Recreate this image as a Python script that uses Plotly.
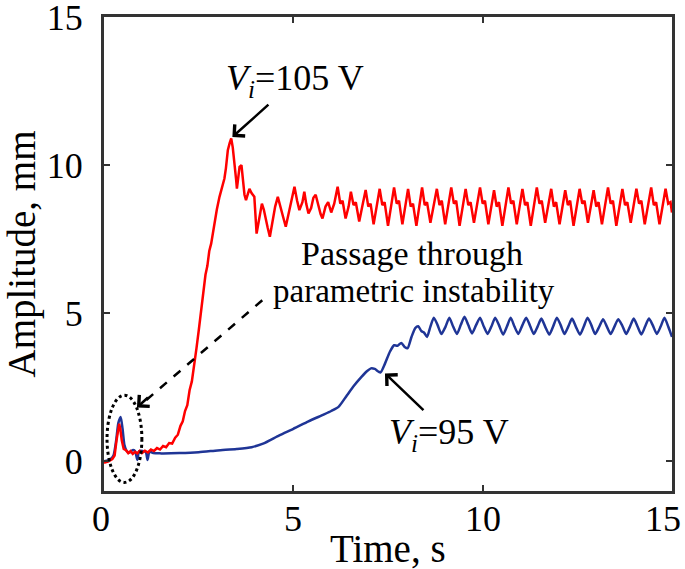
import plotly.graph_objects as go

# ---------------- data ----------------
red_t = [0.00, 0.12, 0.22, 0.28, 0.33, 0.37, 0.40, 0.43, 0.47, 0.52, 0.58, 0.64, 0.70, 0.76,
         0.82, 0.88, 0.94, 1.00, 1.08, 1.16, 1.24, 1.32, 1.40, 1.48, 1.56, 1.64, 1.72, 1.80,
         1.88, 1.95, 2.02, 2.08, 2.14, 2.20, 2.26, 2.32, 2.38, 2.44, 2.50, 2.56, 2.62, 2.68,
         2.73, 2.78, 2.83, 2.87, 2.92, 2.98, 3.05, 3.12, 3.18, 3.22, 3.27, 3.32, 3.36, 3.40,
         3.45, 3.49, 3.51, 3.55, 3.58, 3.63, 3.67, 3.71, 3.75, 3.80, 3.84, 3.90, 3.97, 4.03,
         4.10, 4.17, 4.22, 4.26, 4.32, 4.38, 4.46, 4.52, 4.59, 4.66, 4.72, 4.80, 4.90, 4.97,
         5.03, 5.10, 5.16, 5.24, 5.29, 5.34, 5.40, 5.47, 5.53, 5.59, 5.66, 5.72, 5.77, 5.85,
         5.92, 6.00, 6.08,
         6.17, 6.24, 6.30, 6.38, 6.46,
         6.52, 6.59, 6.65, 6.74, 6.82,
         6.91, 6.98, 7.04, 7.12, 7.20,
         7.28, 7.35, 7.41, 7.50, 7.58,
         7.66, 7.73, 7.79, 7.88, 7.96,
         8.03, 8.10, 8.16, 8.25, 8.33,
         8.40, 8.47, 8.53, 8.62, 8.71,
         8.79, 8.86, 8.92, 9.01, 9.09,
         9.17, 9.24, 9.30, 9.39, 9.47,
         9.55, 9.62, 9.68, 9.77, 9.85,
         9.93, 10.00, 10.06, 10.15, 10.23,
         10.30, 10.37, 10.43, 10.52, 10.60,
         10.68, 10.75, 10.81, 10.90, 10.98,
         11.05, 11.12, 11.18, 11.27, 11.35,
         11.43, 11.50, 11.56, 11.65, 11.73,
         11.81, 11.88, 11.94, 12.03, 12.11,
         12.18, 12.25, 12.31, 12.40, 12.48,
         12.56, 12.63, 12.69, 12.78, 12.86,
         12.93, 13.00, 13.06, 13.15, 13.23,
         13.31, 13.38, 13.44, 13.53, 13.61,
         13.69, 13.76, 13.82, 13.91, 13.99,
         14.06, 14.13, 14.19, 14.28, 14.36,
         14.45, 14.52, 14.58, 14.67, 14.75,
         14.83, 14.90, 14.96, 15.00]
red_a = [-0.05, 0.00, 0.08, 0.20, 0.70, 1.10, 1.27, 1.10, 0.70, 0.42, 0.38, 0.28, 0.35, 0.25,
         0.32, 0.27, 0.35, 0.28, 0.36, 0.30, 0.40, 0.35, 0.45, 0.40, 0.52, 0.48, 0.62, 0.60,
         0.80, 0.90, 1.20, 1.35, 1.70, 1.90, 2.40, 2.70, 3.20, 3.80, 4.40, 5.10, 5.70, 6.30,
         6.60, 7.10, 7.35, 7.70, 8.00, 8.50, 8.93, 9.30, 9.55, 9.90, 10.50, 10.75, 10.90, 10.60,
         10.07, 9.50, 9.21, 9.70, 9.94, 10.00, 9.60, 9.00, 8.82, 9.00, 9.20, 9.05, 8.93, 7.69,
         8.20, 8.70, 8.50, 8.30, 7.90, 7.58, 8.20, 8.60, 8.93, 8.55, 8.30, 7.92, 8.50, 9.00,
         9.27, 8.80, 8.48, 8.75, 9.10, 8.70, 8.37, 8.55, 8.90, 9.00, 8.60, 8.35, 8.20, 8.60,
         8.75, 8.40, 8.70,
         9.27, 8.70, 8.80, 8.20, 8.60,
         9.10, 8.65, 8.75, 8.10, 8.60,
         9.16, 8.60, 8.70, 8.00, 8.60,
         9.20, 8.65, 8.75, 7.95, 8.60,
         9.25, 8.70, 8.80, 8.00, 8.60,
         9.20, 8.60, 8.70, 7.95, 8.60,
         9.25, 8.65, 8.75, 8.05, 8.60,
         9.20, 8.65, 8.80, 8.00, 8.60,
         9.25, 8.70, 8.80, 7.95, 8.60,
         9.20, 8.65, 8.75, 8.05, 8.60,
         9.25, 8.70, 8.80, 8.00, 8.60,
         9.15, 8.60, 8.75, 7.95, 8.60,
         9.25, 8.70, 8.80, 8.00, 8.60,
         9.20, 8.65, 8.75, 7.95, 8.60,
         9.25, 8.70, 8.80, 8.05, 8.60,
         9.20, 8.60, 8.75, 8.00, 8.60,
         9.15, 8.65, 8.80, 7.95, 8.60,
         9.20, 8.70, 8.80, 8.05, 8.60,
         9.15, 8.60, 8.75, 8.00, 8.60,
         9.25, 8.70, 8.80, 7.95, 8.60,
         9.20, 8.65, 8.75, 8.05, 8.60,
         9.20, 8.70, 8.80, 8.00, 8.60,
         9.25, 8.65, 8.75, 8.00, 8.60,
         9.20, 8.70, 8.75, 8.40]

blue_t = [0.00, 0.15, 0.25, 0.32, 0.38, 0.44, 0.49, 0.54, 0.60, 0.68, 0.75, 0.82, 0.88, 0.93,
          1.10, 1.15, 1.20, 1.30, 1.50, 2.00, 2.50, 3.00, 3.50, 3.90, 4.20, 4.63, 5.00, 5.40,
          5.80, 6.00, 6.20, 6.40, 6.60, 6.80, 6.95, 7.05, 7.15, 7.30, 7.42, 7.55, 7.66, 7.75,
          7.85, 7.95, 8.02, 8.12, 8.22, 8.30, 8.38, 8.45, 8.53, 8.62,
          8.71, 8.81, 8.91, 9.02,
          9.12, 9.22, 9.32, 9.42,
          9.52, 9.62, 9.72, 9.82,
          9.93, 10.03, 10.13, 10.23,
          10.33, 10.43, 10.54, 10.64,
          10.74, 10.84, 10.94, 11.05,
          11.15, 11.25, 11.35, 11.45,
          11.55, 11.65, 11.76, 11.86,
          11.96, 12.06, 12.16, 12.26,
          12.36, 12.46, 12.57, 12.67,
          12.77, 12.87, 12.97, 13.08,
          13.18, 13.28, 13.38, 13.48,
          13.58, 13.68, 13.79, 13.89,
          13.99, 14.09, 14.19, 14.29,
          14.39, 14.49, 14.60, 14.70,
          14.80, 14.90, 15.00]
blue_a = [0.00, 0.05, 0.20, 0.70, 1.30, 1.50, 1.10, 0.55, 0.35, 0.30, 0.38, 0.35, 0.05, 0.35,
          0.32, 0.05, 0.33, 0.28, 0.27, 0.28, 0.31, 0.37, 0.42, 0.48, 0.60, 0.88, 1.10, 1.35,
          1.58, 1.70, 1.85, 2.20, 2.55, 2.85, 3.05, 3.14, 3.12, 3.00, 3.30, 3.70, 3.92, 3.90,
          4.00, 3.85, 3.82, 4.20, 4.50, 4.56, 4.40, 4.35, 4.20, 4.55,
          4.85, 4.60, 4.30, 4.55,
          4.85, 4.55, 4.30, 4.60,
          4.88, 4.60, 4.32, 4.58,
          4.85, 4.55, 4.30, 4.55,
          4.85, 4.60, 4.28, 4.55,
          4.85, 4.55, 4.30, 4.60,
          4.85, 4.58, 4.30, 4.55,
          4.82, 4.55, 4.28, 4.55,
          4.85, 4.60, 4.30, 4.55,
          4.82, 4.55, 4.28, 4.55,
          4.85, 4.60, 4.30, 4.55,
          4.80, 4.55, 4.30, 4.55,
          4.80, 4.60, 4.30, 4.55,
          4.82, 4.55, 4.28, 4.55,
          4.82, 4.60, 4.30, 4.55,
          4.85, 4.55, 4.20]

x_ticks = [0, 5, 10, 15]
x_ticktext = ["0", "5", "10", "15"]
y_ticks = [0, 5, 10, 15]
y_ticktext = ["0", "5", "10", "15"]

FONT = "Liberation Serif"
RED = "#ff0000"
BLUE = "#1f3596"
AX = "#333333"

fig = go.Figure()
fig.add_trace(go.Scatter(x=blue_t, y=blue_a, mode="lines",
                         line=dict(color=BLUE, width=2.5, shape="spline", smoothing=0.6),
                         showlegend=False, hoverinfo="skip"))
fig.add_trace(go.Scatter(x=red_t, y=red_a, mode="lines",
                         line=dict(color=RED, width=2.5),
                         showlegend=False, hoverinfo="skip"))

axis_common = dict(showgrid=False, zeroline=False, showline=True, linecolor=AX, linewidth=3,
                   mirror="ticks", ticks="inside", ticklen=6, tickwidth=2, tickcolor=AX,
                   automargin=False, ticklabeloverflow="allow",
                   tickfont=dict(family=FONT, size=36, color="black"))

fig.update_xaxes(range=[0, 15], tickvals=x_ticks, ticktext=x_ticktext, showticklabels=False,
                 **axis_common)
fig.update_yaxes(range=[-1, 15], tickvals=y_ticks, ticktext=y_ticktext,
                 ticklabelstandoff=11,
                 title=dict(text="Amplitude, mm", font=dict(family=FONT, size=39, color="black"),
                            standoff=6),
                 **axis_common)

annotations = []
# x tick labels
for i, (v, txt) in enumerate(zip(x_ticks, x_ticktext)):
    shift = 0
    if i == 0:
        shift = -3
    if i == len(x_ticks) - 1:
        shift = -9
    annotations.append(dict(x=v, y=0, xref="x", yref="paper", text=txt, showarrow=False,
                            xanchor="center", yanchor="top", xshift=shift, yshift=-6,
                            font=dict(family=FONT, size=36, color="black")))
# x title
annotations.append(dict(x=0.5, y=0, xref="paper", yref="paper", text="Time, s", showarrow=False,
                        xanchor="center", yanchor="top", yshift=-34,
                        font=dict(family=FONT, size=39, color="black")))

# V_i = 105 V (text with arrow to the peak)
annotations.append(dict(x=3.39, y=10.95, ax=5.05, ay=12.85, xref="x", yref="y",
                        axref="x", ayref="y",
                        text="<i>V<sub>i</sub></i>=105 V", showarrow=True,
                        arrowhead=4, arrowsize=1.2, arrowwidth=2.5, arrowcolor="black",
                        font=dict(family=FONT, size=36, color="black")))
# V_i = 95 V
annotations.append(dict(x=7.42, y=2.97, ax=9.1, ay=0.92, xref="x", yref="y",
                        axref="x", ayref="y",
                        text="<i>V<sub>i</sub></i>=95 V", showarrow=True,
                        arrowhead=4, arrowsize=1.2, arrowwidth=2.5, arrowcolor="black",
                        font=dict(family=FONT, size=36, color="black")))
# Passage text
annotations.append(dict(x=8.13, y=7.03, xref="x", yref="y", text="Passage through",
                        showarrow=False, xanchor="center", yanchor="middle",
                        font=dict(family=FONT, size=34, color="black")))
annotations.append(dict(x=8.18, y=5.75, xref="x", yref="y", text="parametric instability",
                        showarrow=False, xanchor="center", yanchor="middle",
                        font=dict(family=FONT, size=33, color="black")))
# arrowhead for dashed pointer
annotations.append(dict(x=0.87, y=1.82, ax=1.2, ay=2.2, xref="x", yref="y",
                        axref="x", ayref="y", text="", showarrow=True,
                        arrowhead=4, arrowsize=1.2, arrowwidth=2.5, arrowcolor="black"))

shapes = [
    dict(type="line", xref="x", yref="y", x0=4.18, y0=5.44, x1=1.1, y1=2.05,
         line=dict(color="black", width=2.5, dash="dash")),
    dict(type="circle", xref="x", yref="y", x0=0.08, x1=1.0, y0=-0.71, y1=2.23,
         line=dict(color="black", width=3, dash="dot")),
]

fig.update_layout(width=685, height=569, margin=dict(l=104, r=13, t=17, b=78),
                  paper_bgcolor="white", plot_bgcolor="white",
                  annotations=annotations, shapes=shapes,
                  font=dict(family=FONT, color="black"))

fig.write_html("out.html", config={"displayModeBar": False},
               post_script="document.body.style.margin='0px';document.body.style.padding='0px';")
